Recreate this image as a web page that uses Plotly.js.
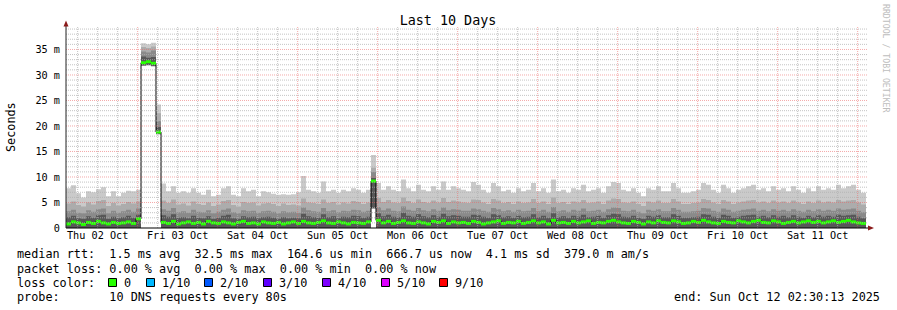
<!DOCTYPE html>
<html><head><meta charset="utf-8">
<script src="https://cdn.plot.ly/plotly-3.0.1.min.js"></script>
<style>html,body{margin:0;padding:0;background:#fff;}</style>
</head><body>
<div id="chart" style="width:897px;height:310px;"></div>
<script>
// ---- data (ms), one sample per 90 minutes starting at startTime ----
const startTime = [2025, 9, 2, 2, 30, 13];   // UTC parts (month 0-based)
const stepMinutes = 90;
const maxRtt = [
7.8,8.4,6.8,6.0,7.2,7.0,7.6,8.0,6.2,7.2,
6.2,6.9,7.3,7.2,7.5,36.2,36.0,36.3,24.2,8.7,
7.2,8.2,6.9,7.2,6.9,7.8,6.9,6.5,7.5,6.2,
6.5,7.8,8.2,6.5,6.2,7.8,7.2,7.5,6.2,7.2,
7.0,6.7,6.5,6.6,6.5,6.6,7.0,10.2,7.5,7.2,
6.9,9.1,7.2,7.5,6.9,7.5,7.2,7.8,7.5,6.9,
7.5,14.3,8.8,7.5,8.2,7.5,7.2,9.5,7.8,7.2,
8.5,7.5,7.2,8.2,7.5,9.1,7.5,8.2,7.8,7.5,
7.2,9.0,8.5,7.5,6.9,8.8,8.2,7.2,7.5,6.9,
7.8,7.2,7.5,8.8,7.2,7.8,6.9,9.5,7.2,7.5,
6.9,7.8,7.5,8.5,7.2,7.5,7.8,6.9,8.2,9.0,
8.8,7.5,7.2,7.8,6.9,6.2,7.8,7.5,8.2,7.2,
7.2,8.8,7.8,6.9,6.9,7.2,7.5,8.8,8.5,7.5,
6.9,8.5,7.8,6.9,7.5,7.8,8.2,8.5,7.5,7.8,
7.2,8.2,7.5,7.8,7.2,8.2,7.5,6.9,7.8,7.2,
8.2,7.5,7.8,7.5,8.5,7.8,8.2,8.5,7.5,6.9];
const band2 = [
4.8,5.2,4.5,4.2,5.0,4.6,5.3,5.5,4.3,4.9,
4.4,4.7,5.1,4.8,5.2,35.5,35.3,35.6,22.5,5.4,
4.9,5.6,4.6,4.8,4.4,5.2,4.7,4.5,5.0,4.3,
4.6,5.3,5.5,4.5,4.2,5.1,4.9,5.0,4.4,4.8,
4.9,4.7,4.3,4.8,4.5,4.6,4.4,5.8,5.0,4.9,
4.7,5.6,4.9,5.1,4.6,5.0,4.8,5.3,5.1,4.7,
5.0,11.8,5.9,5.1,5.5,5.0,4.9,6.0,5.3,4.9,
5.6,5.1,4.9,5.4,5.0,5.9,5.1,5.4,5.2,5.0,
4.9,5.6,5.5,5.0,4.7,5.7,5.4,4.9,5.1,4.7,
5.2,4.9,5.0,5.7,4.9,5.2,4.7,6.0,4.9,5.1,
4.7,5.2,5.0,5.5,4.9,5.0,5.2,4.7,5.4,5.8,
5.7,5.0,4.9,5.2,4.7,4.3,5.2,5.0,5.4,4.9,
4.9,5.7,5.2,4.7,4.7,4.9,5.0,5.7,5.5,5.0,
4.7,5.5,5.2,4.7,5.0,5.2,5.4,5.5,5.0,5.2,
4.9,5.4,5.0,5.2,4.9,5.4,5.0,4.7,5.2,4.9,
5.4,5.0,5.2,5.0,5.5,5.2,5.4,5.5,5.0,4.6];
const band3 = [
3.3,3.6,3.0,2.9,3.5,3.2,3.7,3.8,2.9,3.4,
3.0,3.3,3.6,3.2,3.8,34.6,34.4,34.8,21.0,3.7,
3.4,3.9,3.1,3.3,3.0,3.6,3.2,3.1,3.5,2.9,
3.2,3.6,3.8,3.1,2.9,3.5,3.3,3.4,3.0,3.3,
3.4,3.2,2.9,3.3,3.1,3.2,3.0,4.0,3.5,3.3,
3.2,3.9,3.3,3.5,3.1,3.4,3.3,3.6,3.5,3.2,
3.4,11.0,4.1,3.5,3.8,3.4,3.3,4.2,3.6,3.4,
3.9,3.5,3.3,3.7,3.4,4.0,3.5,3.7,3.6,3.4,
3.4,3.8,3.7,3.4,3.2,3.9,3.7,3.3,3.5,3.2,
3.6,3.3,3.4,3.9,3.3,3.6,3.2,4.1,3.3,3.5,
3.2,3.6,3.4,3.8,3.3,3.4,3.6,3.2,3.7,4.0,
3.9,3.4,3.3,3.6,3.2,2.9,3.6,3.4,3.7,3.3,
3.3,3.9,3.6,3.2,3.2,3.3,3.4,3.9,3.8,3.4,
3.2,3.8,3.6,3.2,3.4,3.6,3.7,3.8,3.4,3.6,
3.3,3.7,3.4,3.6,3.3,3.7,3.4,3.2,3.6,3.3,
3.7,3.4,3.6,3.4,3.8,3.6,3.7,3.8,3.4,3.1];
const band4 = [
2.1,2.4,1.9,1.8,2.3,2.0,2.5,2.6,1.8,2.2,
1.9,2.1,2.4,2.0,2.6,33.6,33.4,33.5,19.8,2.5,
2.2,2.7,2.0,2.1,1.9,2.4,2.0,1.9,2.3,1.8,
2.0,2.4,2.6,1.9,1.8,2.3,2.1,2.2,1.9,2.1,
2.2,2.0,1.8,2.1,1.9,2.0,1.9,2.8,2.3,2.1,
2.0,2.7,2.1,2.3,1.9,2.2,2.1,2.4,2.3,2.0,
2.2,9.8,2.9,2.3,2.6,2.2,2.1,3.0,2.4,2.2,
2.7,2.3,2.1,2.5,2.2,2.8,2.3,2.5,2.4,2.2,
2.2,2.6,2.5,2.2,2.0,2.7,2.5,2.1,2.3,2.0,
2.4,2.1,2.2,2.7,2.1,2.4,2.0,2.9,2.1,2.3,
2.0,2.4,2.2,2.6,2.1,2.2,2.4,2.0,2.5,2.8,
2.7,2.2,2.1,2.4,2.0,1.8,2.4,2.2,2.5,2.1,
2.1,2.7,2.4,2.0,2.0,2.1,2.2,2.7,2.6,2.2,
2.0,2.6,2.4,2.0,2.2,2.4,2.5,2.6,2.2,2.4,
2.1,2.5,2.2,2.4,2.1,2.5,2.2,2.0,2.4,2.1,
2.5,2.2,2.4,2.2,2.6,2.4,2.5,2.6,2.2,1.9];
const minRtt = [
0,0,0,0,0,0,0,0,0,0,
0,0,0,0,0,31.8,31.9,31.7,18.4,0,
0,0,0,0,0,0,0,0,0,0,
0,0,0,0,0,0,0,0,0,0,
0,0,0,0,0,0,0,0,0,0,
0,0,0,0,0,0,0,0,0,0,
0,3.8,0,0,0,0,0,0,0,0,
0,0,0,0,0,0,0,0,0,0,
0,0,0,0,0,0,0,0,0,0,
0,0,0,0,0,0,0,0,0,0,
0,0,0,0,0,0,0,0,0,0,
0,0,0,0,0,0,0,0,0,0,
0,0,0,0,0,0,0,0,0,0,
0,0,0,0,0,0,0,0,0,0,
0,0,0,0,0,0,0,0,0,0,
0,0,0,0,0,0,0,0,0,0];
const medianRtt = [
0.8,1.2,1.0,0.7,1.1,0.9,1.3,1.0,0.8,1.1,
0.9,1.0,1.2,0.9,1.8,32.4,32.6,32.3,18.8,1.1,
0.9,1.3,0.8,1.0,1.2,0.9,1.1,0.8,1.3,1.0,
0.9,1.2,1.0,0.8,1.1,1.3,0.9,1.0,0.8,1.2,
1.0,0.9,1.1,0.8,1.0,1.2,0.9,1.3,1.0,0.9,
1.1,1.4,1.0,0.9,1.2,1.0,0.8,1.1,1.0,0.9,
1.2,9.2,1.5,1.0,1.3,0.9,1.1,1.4,1.0,0.9,
1.2,1.0,0.8,1.3,1.1,1.4,0.9,1.2,1.0,1.1,
0.9,1.3,1.1,0.8,1.0,1.2,1.4,0.9,1.1,1.0,
1.3,0.9,1.1,1.4,1.0,1.2,0.8,1.5,1.0,1.1,
0.9,1.3,1.0,1.2,1.4,0.9,1.1,1.0,1.3,1.5,
1.2,1.0,0.9,1.3,1.1,0.8,1.2,1.0,1.4,1.1,
1.0,1.4,1.2,0.9,1.0,1.3,1.1,1.5,1.2,1.0,
0.9,1.3,1.1,1.0,1.4,1.2,1.0,1.3,1.5,1.1,
1.0,1.4,1.2,0.9,1.1,1.3,1.0,1.2,1.4,1.1,
1.3,1.0,1.2,1.4,1.1,1.3,1.5,1.2,1.0,0.9];
const yTickVals = [0, 5, 10, 15, 20, 25, 30, 35];
const yTickText = ['0', '5 m', '10 m', '15 m', '20 m', '25 m', '30 m', '35 m'];
const lossLabels = ['0', '1/10', '2/10', '3/10', '4/10', '5/10', '9/10'];
const lossColors = ['#26ff00', '#00b8ff', '#0059ff', '#5e00ff', '#7e00ff', '#dd00ff', '#ff0000'];
const legendRows = [
  'median rtt:  1.5 ms avg  32.5 ms max  164.6 us min  666.7 us now  4.1 ms sd  379.0 m am/s',
  'packet loss: 0.00 % avg  0.00 % max  0.00 % min  0.00 % now',
  'loss color:',
  'probe:       10 DNS requests every 80s'
];
const endText = 'end: Sun Oct 12 02:30:13 2025';
const titleText = 'Last 10 Days';
const watermark = 'RRDTOOL / TOBI OETIKER';

// ---- helpers ----
const MONO = 'DejaVu Sans Mono';
const W = 897, H = 310;
const L = 66, R = 866, T = 26, B = 228;
const px = x => (x - L) / (R - L);
const py = y => (B - y) / (B - T);
const fmt = t => new Date(t).toISOString().slice(0, 19).replace('T', ' ');
const t0 = Date.UTC(...startTime);
const stepMs = stepMinutes * 60000;
const n = maxRtt.length;
const t1 = t0 + n * stepMs;
const xs = [], xc = [];
for (let k = 0; k <= n; k++) xs.push(fmt(t0 + k * stepMs));
for (let k = 0; k < n; k++) xc.push(fmt(t0 + k * stepMs + stepMs / 2));
const ext = a => a.concat([a[a.length - 1]]);

function band(vals, color) {
  return {type: 'scatter', mode: 'lines', x: xs, y: ext(vals), line: {shape: 'hv', width: 0, color: color},
          fill: 'tozeroy', fillcolor: color, hoverinfo: 'skip', showlegend: false};
}
const traces = [
  band(maxRtt, '#cacaca'),
  band(band2, '#acacac'),
  band(band3, '#8a8a8a'),
  band(band4, '#575757'),
  band(minRtt, '#ffffff'),
  {type: 'scatter', mode: 'lines', x: xs, y: ext(medianRtt), line: {shape: 'hv', width: 1, color: '#000'},
   hoverinfo: 'skip', showlegend: false},
  {type: 'scatter', mode: 'markers', x: xc, y: medianRtt,
   marker: {symbol: 'line-ew', size: 3.6, line: {width: 3, color: lossColors[0]}},
   hoverinfo: 'skip', showlegend: false}
];

// ---- grid & decorations ----
const shapes = [];
const gridMinor = 'rgba(175,175,175,0.75)';
const gridMajor = 'rgba(235,100,100,0.55)';
for (let t = Date.UTC(2025, 9, 2, 6); t < t1; t += 6 * 3600000) {
  const major = new Date(t).getUTCHours() === 0;
  shapes.push({type: 'line', xref: 'x', yref: 'paper', x0: fmt(t), x1: fmt(t), y0: 0, y1: 1, layer: 'above',
               line: {color: major ? gridMajor : gridMinor, width: 1, dash: '1px,1px'}});
}
for (let v = 1; v <= 39; v++) {
  const major = v % 5 === 0;
  shapes.push({type: 'line', xref: 'paper', yref: 'y', x0: 0, x1: px(868), y0: v, y1: v, layer: 'above',
               line: {color: major ? gridMajor : gridMinor, width: 1, dash: '1px,1px'}});
}
// axis lines and arrows
shapes.push({type: 'line', xref: 'paper', yref: 'paper', x0: px(66), x1: px(869), y0: 0, y1: 0, layer: 'above', line: {color: '#000', width: 1}});
shapes.push({type: 'line', xref: 'paper', yref: 'paper', x0: 0, x1: 0, y0: 0, y1: py(24), layer: 'above', line: {color: '#222', width: 1}});
const arrowColor = '#8b1a1a';
shapes.push({type: 'path', xref: 'paper', yref: 'paper', layer: 'above', fillcolor: arrowColor, line: {width: 0},
  path: `M ${px(63.5)} ${py(26.5)} L ${px(66)} ${py(20.5)} L ${px(68.5)} ${py(26.5)} Z`});
shapes.push({type: 'path', xref: 'paper', yref: 'paper', layer: 'above', fillcolor: arrowColor, line: {width: 0},
  path: `M ${px(868)} ${py(225.5)} L ${px(874)} ${py(228)} L ${px(868)} ${py(230.5)} Z`});

// ---- annotations ----
const nb = s => s.replace(/ /g, '\u00a0');
const ann = [];
const FS = 11.8;
const rowY = [254, 268.5, 282.5, 296.5];
legendRows.forEach((r, i) => ann.push({xref: 'paper', yref: 'paper', x: px(16), y: py(rowY[i]), xanchor: 'left', yanchor: 'middle',
  text: nb(r), showarrow: false, borderpad: 0, font: {family: MONO, size: FS, color: '#000'}}));
ann.push({xref: 'paper', yref: 'paper', x: px(881), y: py(rowY[3]), xanchor: 'right', yanchor: 'middle',
  text: nb(endText), showarrow: false, borderpad: 0, font: {family: MONO, size: FS, color: '#000'}});
const sqX = [108, 146, 204, 263, 322, 381, 439];
lossLabels.forEach((lab, i) => {
  shapes.push({type: 'rect', xref: 'paper', yref: 'paper', x0: px(sqX[i] + 0.5), x1: px(sqX[i] + 8.5), y0: py(278.5), y1: py(286.5),
               fillcolor: lossColors[i], line: {color: '#000', width: 1}});
  ann.push({xref: 'paper', yref: 'paper', x: px(sqX[i] + 15), y: py(rowY[2]), xanchor: 'left', yanchor: 'middle',
    text: nb(lab), showarrow: false, borderpad: 0, font: {family: MONO, size: FS, color: '#000'}});
});
ann.push({xref: 'paper', yref: 'paper', x: px(11), y: 0.5, xanchor: 'center', yanchor: 'middle', textangle: -90,
  text: 'Seconds', showarrow: false, borderpad: 0, font: {family: MONO, size: FS, color: '#000'}});
ann.push({xref: 'paper', yref: 'paper', x: px(886), y: py(59), xanchor: 'center', yanchor: 'middle', textangle: 90,
  text: nb(watermark), showarrow: false, borderpad: 0, font: {family: MONO, size: 8.2, color: '#bdbdbd'}});

const layout = {
  width: W, height: H,
  margin: {l: L, r: W - R, t: T, b: H - B, pad: 0},
  paper_bgcolor: '#fff', plot_bgcolor: '#fff',
  showlegend: false,
  title: {text: titleText, font: {family: MONO, size: 13.4, color: '#000'}, x: 448 / W, xanchor: 'center',
          y: 1 - 20 / H, yanchor: 'middle', xref: 'container', yref: 'container'},
  xaxis: {type: 'date', range: [fmt(t0), fmt(t1)], showgrid: false, zeroline: false, showline: false,
          tickmode: 'linear', tick0: '2025-10-02 12:00:00', dtick: 86400000, tickformat: '%a %d %b',
          ticks: '', ticklen: 0,
          tickfont: {family: MONO, size: 10.2, color: '#000'}, fixedrange: true},
  yaxis: {range: [0, 39.6], showgrid: false, zeroline: false, showline: false,
          tickmode: 'array', tickvals: yTickVals, ticktext: yTickText,
          ticks: 'outside', ticklen: 3, tickcolor: 'rgba(0,0,0,0)',
          tickfont: {family: MONO, size: 10.2, color: '#000'}, fixedrange: true},
  shapes: shapes,
  annotations: ann
};
Plotly.newPlot('chart', traces, layout, {staticPlot: true, displayModeBar: false});
</script>
</body></html>
